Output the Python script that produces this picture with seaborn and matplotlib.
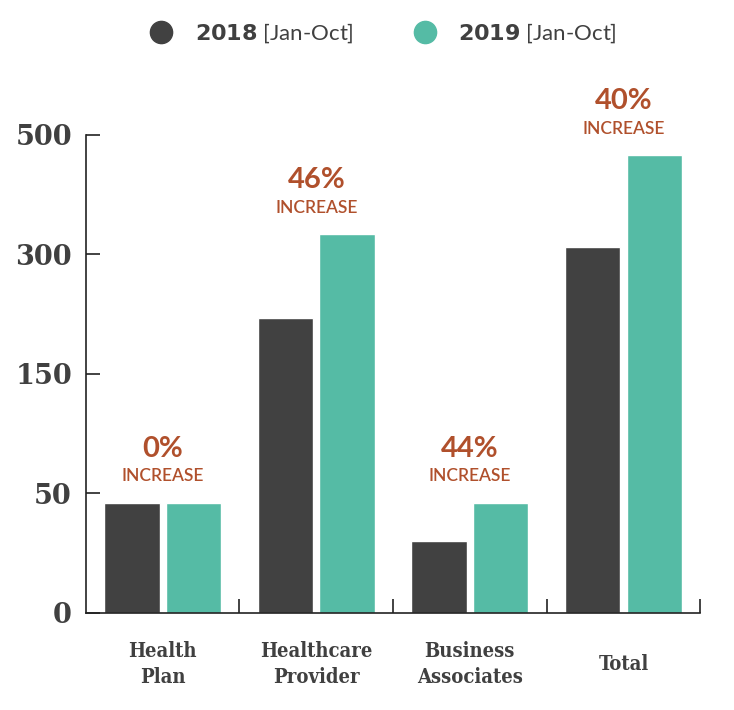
import numpy as np
import pandas as pd
import matplotlib
matplotlib.use("Agg")
import matplotlib.pyplot as plt
from matplotlib.lines import Line2D
import seaborn as sns

# data
categories = ["Health\nPlan", "Healthcare\nProvider", "Business\nAssociates", "Total"]
years = ["2018", "2019"]
vals_2018 = [46, 220, 30, 313]
vals_2019 = [46, 334, 46, 466]
pct_labels = ["0%", "46%", "44%", "40%"]
ytick_vals = [0, 50, 150, 300, 500]

dark = "#414141"
teal = "#55BBA5"
rust = "#B0502C"

df = pd.DataFrame({
    "category": categories * 2,
    "year": ["2018"] * 4 + ["2019"] * 4,
    "value": vals_2018 + vals_2019,
})

sns.set_style("white")
plt.rcParams["font.family"] = ["Lato", "DejaVu Sans"]

fig = plt.figure(figsize=(7.34, 7.10), dpi=100)
ax = fig.add_axes([0.117, 0.137, 0.837, 0.673])

# uneven y axis: equal spacing between 0, 50, 150, 300, 500
steps = np.arange(len(ytick_vals))
ax.set_yscale("function", functions=(
    lambda v: np.interp(v, ytick_vals, steps),
    lambda s: np.interp(s, steps, ytick_vals),
))

sns.barplot(data=df, x="category", y="value", hue="year", hue_order=years,
            palette=[dark, teal], saturation=1, width=0.8, gap=0.1,
            ax=ax, legend=False)

ax.set_ylim(0, 500)
ax.set_xlim(-0.5, 3.5)
ax.set_yticks(ytick_vals)
ax.set_yticklabels([str(v) for v in ytick_vals], family="DejaVu Serif",
                   fontweight="heavy", fontsize=19.5, color="#404040")
ax.tick_params(axis="y", direction="in", length=10, width=1.2, pad=10,
               left=True, color="#222222")
ax.set_xticks(range(4))
ax.set_xticklabels(categories, family="DejaVu Serif", fontweight="bold",
                   fontsize=14.5, color="#404040", linespacing=1.35,
                   va="center", stretch="condensed")
ax.tick_params(axis="x", length=0, pad=37)
ax.set_xticks([0.5, 1.5, 2.5, 3.5], minor=True)
ax.tick_params(axis="x", which="minor", direction="in", length=10,
               width=1.2, bottom=True, color="#222222")
ax.set_xlabel("")
ax.set_ylabel("")

for side in ["top", "right"]:
    ax.spines[side].set_visible(False)
for side in ["left", "bottom"]:
    ax.spines[side].set_color("#222222")
    ax.spines[side].set_linewidth(1.2)

# increase labels above each group
for i, lab in enumerate(pct_labels):
    top = max(vals_2018[i], vals_2019[i])
    ax.annotate("INCREASE", (i, top), xytext=(0, 19), textcoords="offset points",
                ha="center", va="center", fontsize=12.5, color=rust,
                fontweight="semibold", annotation_clip=False)
    ax.annotate(lab, (i, top), xytext=(0, 39), textcoords="offset points",
                ha="center", va="center", fontsize=21, color=rust,
                fontweight="bold", annotation_clip=False)

handles = [Line2D([], [], marker="o", linestyle="", markersize=16,
                  markerfacecolor=c, markeredgecolor=c) for c in (dark, teal)]
labels = [r"$\mathbf{2018}$ [Jan-Oct]", r"$\mathbf{2019}$ [Jan-Oct]"]
fig.legend(handles, labels, loc="center", bbox_to_anchor=(0.515, 0.953),
           ncol=2, frameon=False, fontsize=16, handletextpad=0.5,
           columnspacing=2.2, labelcolor="#404040")

fig.savefig("out.png", dpi=100)
